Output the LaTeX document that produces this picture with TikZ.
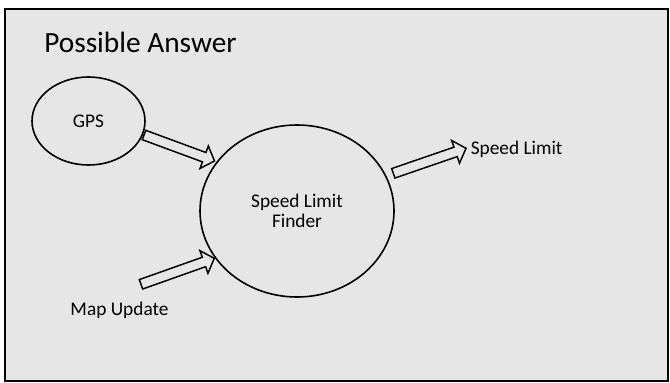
\documentclass[tikz,border=0pt]{standalone}
\usepackage{fontspec}
\setmainfont{Carlito}
\usetikzlibrary{shapes.geometric,calc}
\definecolor{bg}{RGB}{230,230,230}
\tikzset{
  small/.style={font=\fontsize{14.5}{15}\selectfont},
  bubble/.style={ellipse, draw, line width=1.2pt, inner sep=0pt, small, align=center},
  blockarrow/.style={draw, line width=1.1pt, line join=miter, miter limit=10}
}
\newcommand\blockarr[3]{% #1 tail, #2 tip, #3 name prefix
  \path ($(#2)!8.25pt!(#1)$) coordinate (#3n);
  \draw[blockarrow] ($(#1)!3.75pt!90:(#2)$) -- ($(#3n)!3.75pt!90:(#2)$)
     -- ($(#3n)!9pt!90:(#2)$) -- (#2) -- ($(#3n)!9pt!-90:(#2)$)
     -- ($(#3n)!3.75pt!-90:(#2)$) -- ($(#1)!3.75pt!-90:(#2)$) -- cycle;
}
\begin{document}
\begin{tikzpicture}[x=0.75pt,y=-0.75pt]
\useasboundingbox (0,0) rectangle (670,382);
\fill[white] (0,0) rectangle (670,382);
\draw[line width=1.5pt, fill=bg] (5,9) rectangle (668,381);
\node[anchor=base west, font=\fontsize{22}{26}\selectfont, inner sep=0pt] (title) at (44,52) {Possible Answer};
\node[bubble, minimum width=84.75pt, minimum height=66pt] (gps) at (88.5,121) {GPS};
\node[bubble, minimum width=145.5pt, minimum height=129pt] (slf) at (297,211) {Speed Limit\\Finder};
\node[small, anchor=base, inner sep=0pt] (map) at (119.5,315) {Map Update};
\node[small, anchor=base west, inner sep=0pt] (out) at (470.5,154) {Speed Limit};
\coordinate (gpsT) at (144,135);
\coordinate (gpsH) at (214.5,161);
\coordinate (mapT) at (141,284.3);
\coordinate (mapH) at (214.3,258.3);
\coordinate (outT) at (393.3,173.3);
\coordinate (outH) at (466,148.3);
\blockarr{gpsT}{gpsH}{a}
\blockarr{mapT}{mapH}{b}
\blockarr{outT}{outH}{c}
\end{tikzpicture}
\end{document}
